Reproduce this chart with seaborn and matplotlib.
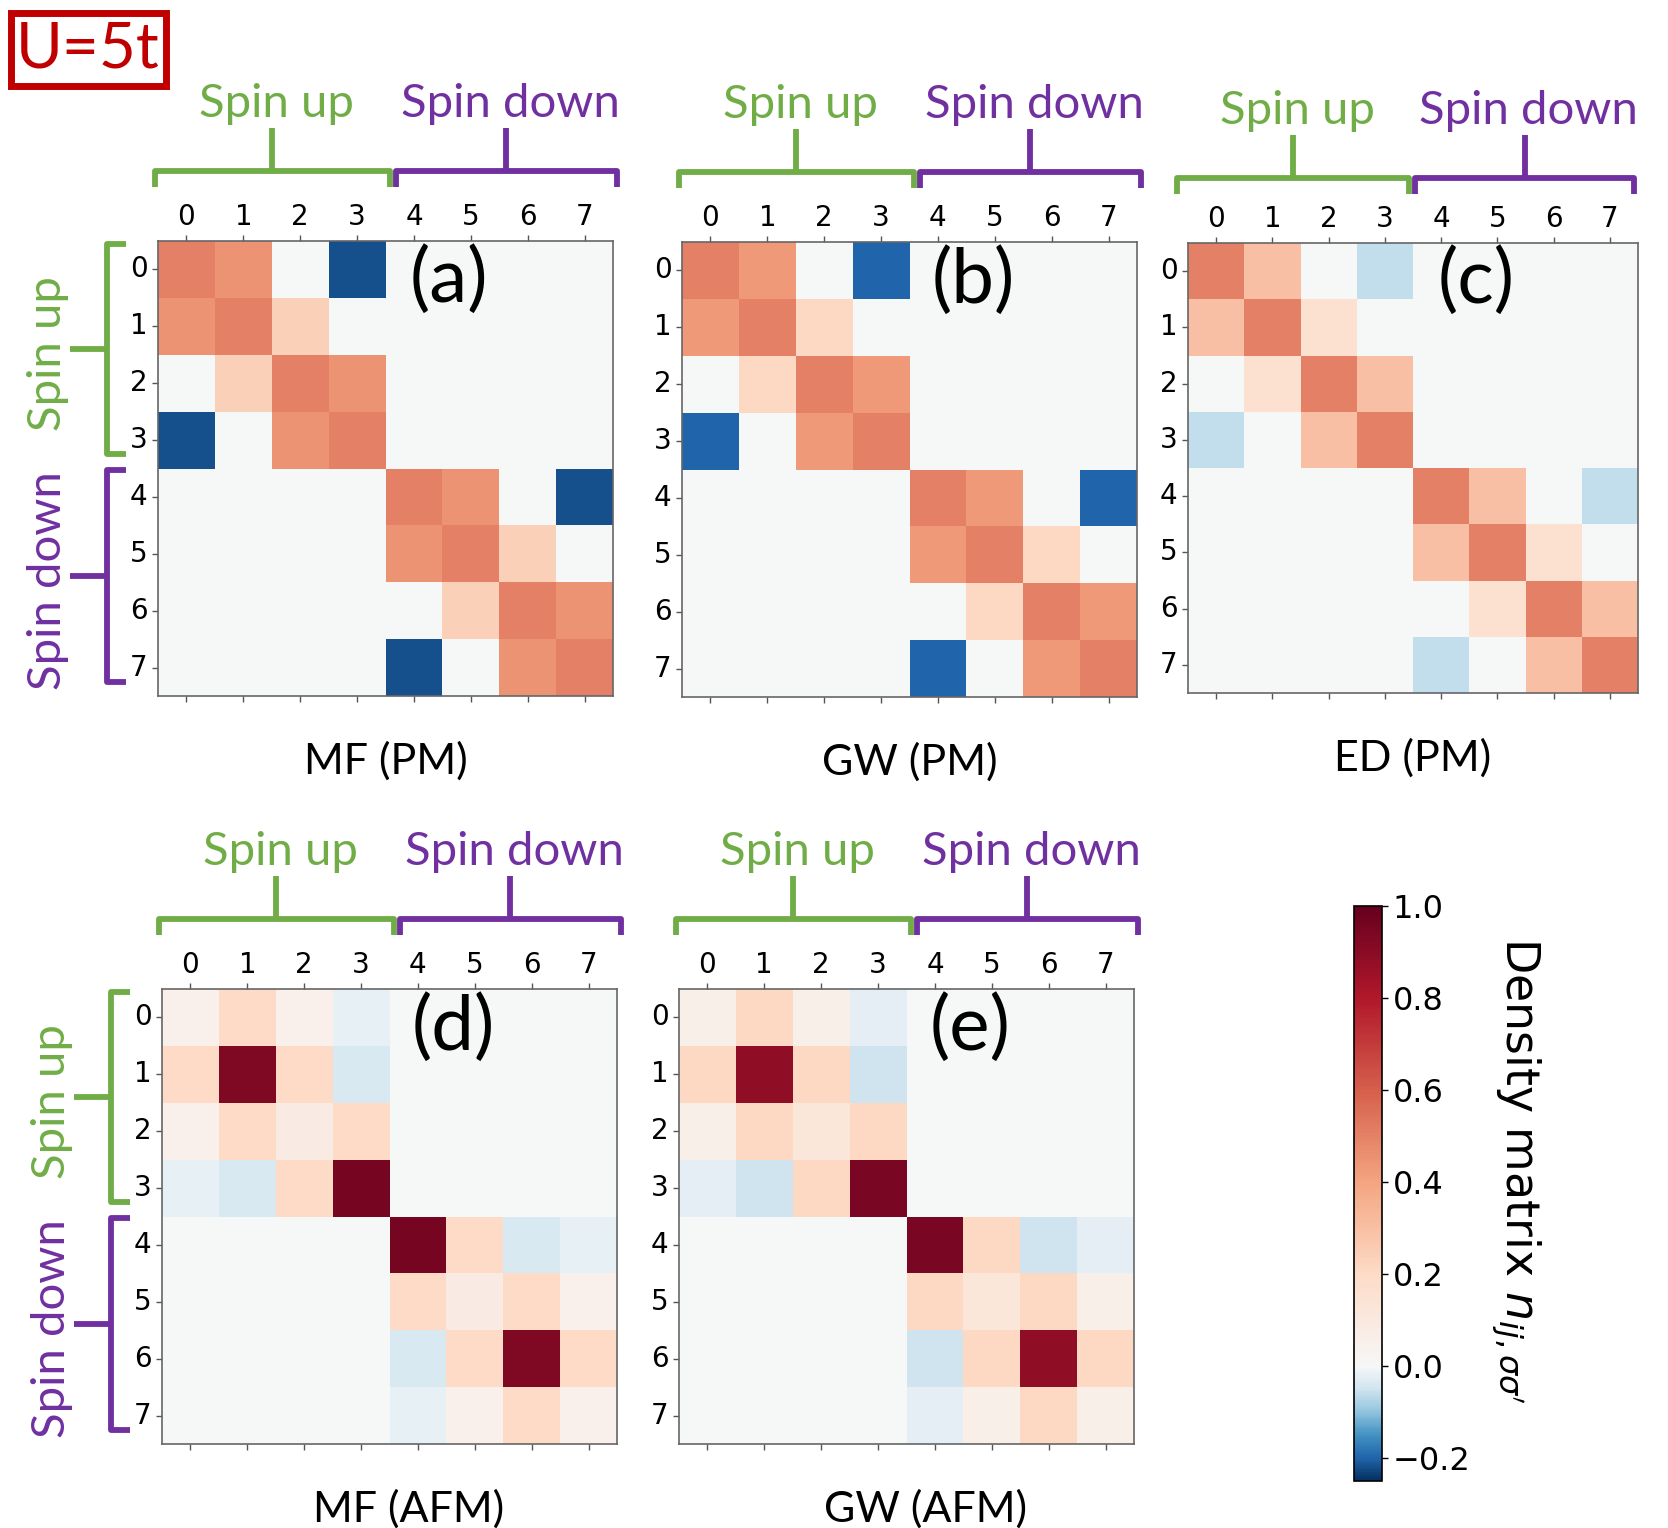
import numpy as np
import matplotlib.pyplot as plt
import seaborn as sns
from matplotlib.colors import ListedColormap, TwoSlopeNorm, Normalize
from matplotlib.lines import Line2D
from matplotlib.patches import Rectangle

# density matrices n_ij (rows/cols: 0-3 spin up, 4-7 spin down)
orbitals = [0, 1, 2, 3, 4, 5, 6, 7]

mf_pm = [
    [0.50, 0.45, 0.00, -0.22, 0, 0, 0, 0],
    [0.45, 0.50, 0.24, 0.00, 0, 0, 0, 0],
    [0.00, 0.24, 0.50, 0.45, 0, 0, 0, 0],
    [-0.22, 0.00, 0.45, 0.50, 0, 0, 0, 0],
    [0, 0, 0, 0, 0.50, 0.45, 0.00, -0.22],
    [0, 0, 0, 0, 0.45, 0.50, 0.24, 0.00],
    [0, 0, 0, 0, 0.00, 0.24, 0.50, 0.45],
    [0, 0, 0, 0, -0.22, 0.00, 0.45, 0.50],
]
gw_pm = [
    [0.50, 0.43, 0.00, -0.20, 0, 0, 0, 0],
    [0.43, 0.50, 0.21, 0.00, 0, 0, 0, 0],
    [0.00, 0.21, 0.50, 0.43, 0, 0, 0, 0],
    [-0.20, 0.00, 0.43, 0.50, 0, 0, 0, 0],
    [0, 0, 0, 0, 0.50, 0.43, 0.00, -0.20],
    [0, 0, 0, 0, 0.43, 0.50, 0.21, 0.00],
    [0, 0, 0, 0, 0.00, 0.21, 0.50, 0.43],
    [0, 0, 0, 0, -0.20, 0.00, 0.43, 0.50],
]
ed_pm = [
    [0.50, 0.30, 0.00, -0.06, 0, 0, 0, 0],
    [0.30, 0.50, 0.16, 0.00, 0, 0, 0, 0],
    [0.00, 0.16, 0.50, 0.30, 0, 0, 0, 0],
    [-0.06, 0.00, 0.30, 0.50, 0, 0, 0, 0],
    [0, 0, 0, 0, 0.50, 0.30, 0.00, -0.06],
    [0, 0, 0, 0, 0.30, 0.50, 0.16, 0.00],
    [0, 0, 0, 0, 0.00, 0.16, 0.50, 0.30],
    [0, 0, 0, 0, -0.06, 0.00, 0.30, 0.50],
]
mf_afm = [
    [0.05, 0.20, 0.05, -0.02, 0, 0, 0, 0],
    [0.20, 0.93, 0.20, -0.04, 0, 0, 0, 0],
    [0.05, 0.20, 0.08, 0.20, 0, 0, 0, 0],
    [-0.02, -0.04, 0.20, 0.96, 0, 0, 0, 0],
    [0, 0, 0, 0, 0.96, 0.20, -0.04, -0.02],
    [0, 0, 0, 0, 0.20, 0.08, 0.20, 0.05],
    [0, 0, 0, 0, -0.04, 0.20, 0.93, 0.20],
    [0, 0, 0, 0, -0.02, 0.05, 0.20, 0.05],
]
gw_afm = [
    [0.06, 0.21, 0.06, -0.025, 0, 0, 0, 0],
    [0.21, 0.89, 0.21, -0.05, 0, 0, 0, 0],
    [0.06, 0.21, 0.12, 0.21, 0, 0, 0, 0],
    [-0.025, -0.05, 0.21, 0.95, 0, 0, 0, 0],
    [0, 0, 0, 0, 0.95, 0.21, -0.05, -0.025],
    [0, 0, 0, 0, 0.21, 0.12, 0.21, 0.06],
    [0, 0, 0, 0, -0.05, 0.21, 0.89, 0.21],
    [0, 0, 0, 0, -0.025, 0.06, 0.21, 0.06],
]

cbar_ticks = [-0.2, 0.0, 0.2, 0.4, 0.6, 0.8, 1.0]
vmin, vmax = -0.25, 1.0

GREEN = '#70ad47'
PURPLE = '#7030a0'
RED = '#c00000'
LABEL_FONT = ['Lato', 'DejaVu Sans']

W, H = 1668, 1528
fig = plt.figure(figsize=(W / 100, H / 100), dpi=100)


def fx(x):
    return x / W


def fy(y):
    return 1 - y / H


# RdBu_r squeezed so that white sits at zero
grid = np.linspace(vmin, vmax, 512)
cmap = ListedColormap(plt.cm.RdBu_r(TwoSlopeNorm(vcenter=0, vmin=vmin, vmax=vmax)(grid)))

# left, top, size (pixels), data, letter, name, left braces?, name offset, brace shift
panels = [
    (158, 241, 455, mf_pm, '(a)', 'MF (PM)', True, 0, (0, 0)),
    (682, 242, 455, gw_pm, '(b)', 'GW (PM)', False, 0, (0, 0)),
    (1188, 243, 450, ed_pm, '(c)', 'ED (PM)', False, 0, (-8, 5)),
    (162, 989, 455, mf_afm, '(d)', 'MF (AFM)', True, 19, (0, 0)),
    (679, 989, 455, gw_afm, '(e)', 'GW (AFM)', False, 19, (0, 0)),
]


def line(xs, ys, color):
    fig.add_artist(Line2D([fx(x) for x in xs], [fy(y) for y in ys], color=color, lw=4.2,
                          solid_joinstyle='round', solid_capstyle='butt',
                          transform=fig.transFigure))


def top_braces(left, top, size, shift):
    sx, sy = shift
    right = left + size
    mid = (left + right) / 2
    y = top - 70 + sy
    for x0, x1, color, label in [(left - 3 + sx, mid + 4 + sx, GREEN, 'Spin up'),
                                 (mid + 10 + sx, right + 4 + sx, PURPLE, 'Spin down')]:
        xc = (x0 + x1) / 2
        line([x0, x0, x1, x1], [y + 16, y, y, y + 16], color)
        line([xc, xc], [y, y - 43], color)
        fig.text(fx(xc + 4), fy(y - 67), label, color=color, fontsize=34, family=LABEL_FONT,
                 ha='center', va='center')


def left_braces(left, top):
    x = left - 51
    for y0, y1, color, label in [(top + 3, top + 213, GREEN, 'Spin up'),
                                 (top + 229, top + 441, PURPLE, 'Spin down')]:
        yc = (y0 + y1) / 2
        line([x + 19, x, x, x + 19], [y0, y0, y1, y1], color)
        line([x, x - 37], [yc, yc], color)
        fig.text(fx(left - 110), fy(yc + 5), label, color=color, fontsize=34, family=LABEL_FONT,
                 rotation=90, ha='center', va='center')


for left, top, size, mat, letter, name, has_left, dx, shift in panels:
    ax = fig.add_axes([fx(left), fy(top + size), size / W, size / H])
    sns.heatmap(np.array(mat), ax=ax, cmap=cmap, vmin=vmin, vmax=vmax, cbar=False,
                xticklabels=orbitals, yticklabels=orbitals)
    ax.tick_params(top=True, labeltop=True, bottom=True, labelbottom=False,
                   left=True, labelleft=True, labelsize=20, length=4, width=1,
                   color='#555555')
    ax.set_yticklabels(orbitals, rotation=0)
    ax.set_xticklabels(orbitals, rotation=0)
    for s in ax.spines.values():
        s.set_visible(True)
        s.set_color('#666666')
        s.set_linewidth(1.2)
    ax.text(0.64, 0.915, letter, transform=ax.transAxes, ha='center', va='center',
            fontsize=55, family=LABEL_FONT)
    fig.text(fx(left + size / 2 + dx), fy(top + size + 65), name, ha='center', va='center',
             fontsize=31, family=LABEL_FONT)
    top_braces(left, top, size, shift)
    if has_left:
        left_braces(left, top)

# colorbar
cax = fig.add_axes([fx(1354), fy(1481), 28 / W, (1481 - 906) / H])
sm = plt.cm.ScalarMappable(norm=Normalize(vmin, vmax), cmap=cmap)
cb = fig.colorbar(sm, cax=cax, ticks=cbar_ticks)
cb.ax.tick_params(labelsize=23, length=4, width=1)
cb.outline.set_linewidth(1.2)
fig.text(fx(1516), fy(1170), r"Density matrix $n_{ij,\sigma\sigma'}$", rotation=270,
         ha='center', va='center', fontsize=33)

# U=5t tag
fig.add_artist(Rectangle((fx(11), fy(86)), 155 / W, 73 / H, transform=fig.transFigure,
                         fill=False, ec=RED, lw=5))
fig.text(fx(88), fy(50), 'U=5t', color=RED, fontsize=46, family=LABEL_FONT,
         ha='center', va='center')

fig.savefig('out.png', dpi=100)
